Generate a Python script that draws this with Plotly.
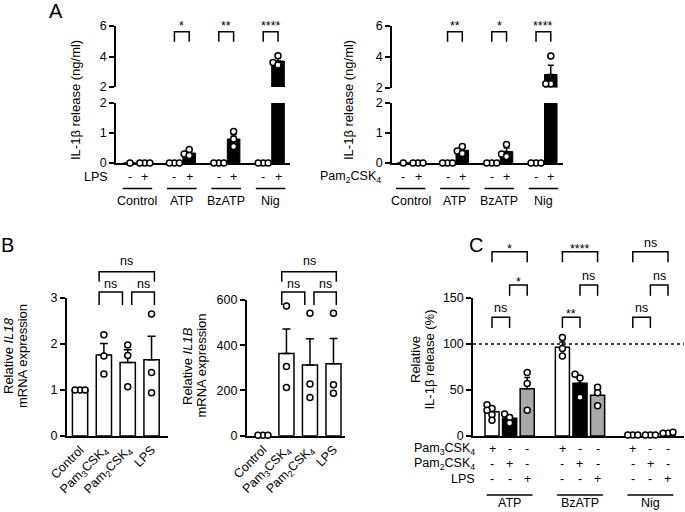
import numpy as np
import plotly.graph_objects as go

W, H = 685, 512
FONT = "Liberation Sans, Arial, sans-serif"
TICK_FS = 12.5
TITLE_FS = 13

# ---------------- data ----------------
A_groups = ["Control", "ATP", "BzATP", "Nig"]
A_signs = ["-", "+"]
A_left_minus = [[0.0], [0.0, 0.0, 0.0], [0.0, 0.0, 0.0], [0.0, 0.0, 0.0]]
A_left_plus = [[0.0, 0.0, 0.0], [0.45, 0.30, 0.25], [1.05, 0.80, 0.55], [4.05, 3.60, 3.45]]
A_left_sig = ["", "*", "**", "****"]
A_right_minus = [[0.0], [0.0, 0.0, 0.0], [0.0, 0.0, 0.0], [0.0, 0.0, 0.0]]
A_right_plus = [[0.0, 0.0, 0.0], [0.55, 0.40, 0.32], [0.62, 0.30, 0.22], [4.05, 2.25, 2.25]]
A_right_sig = ["", "**", "*", "****"]
A_left_row = "LPS"
A_right_row = "Pam<sub>2</sub>CSK<sub>4</sub>"
A_ytitle = "IL-1β release (ng/ml)"
A_yticks_low = [0, 1, 2]
A_yticks_high = [2, 4, 6]

B_cats = ["Control", "Pam<sub>3</sub>CSK<sub>4</sub>", "Pam<sub>2</sub>CSK<sub>4</sub>", "LPS"]
B_il18 = [[1.0, 1.0, 1.0], [2.20, 1.74, 1.35], [1.98, 1.75, 1.07], [2.65, 1.38, 0.94]]
B_il1b = [[2, 2, 2], [573, 306, 213], [541, 229, 169], [541, 225, 188]]
B_il18_ticks = [0, 1, 2, 3]
B_il1b_ticks = [0, 200, 400, 600]
B_sig = [(1, 2, "ns"), (2, 3, "ns"), (1, 3, "ns")]
B_il18_title = ["Relative <i>IL18</i>", "mRNA expression"]
B_il1b_title = ["Relative <i>IL1B</i>", "mRNA expression"]

C_groups = ["ATP", "BzATP", "Nig"]
C_stims = ["Pam<sub>3</sub>CSK<sub>4</sub>", "Pam<sub>2</sub>CSK<sub>4</sub>", "LPS"]
C_pam3 = [[34, 30, 28, 23, 17], [107, 95, 87], [1, 1, 1]]
C_pam2 = [[24, 20, 14], [67, 63, 42], [1, 1, 1]]
C_lps = [[69, 57, 28], [53, 47, 33], [3, 4, 3]]
C_sig_12 = ["ns", "**", "ns"]
C_sig_23 = ["*", "ns", "ns"]
C_sig_13 = ["*", "****", "ns"]
C_yticks = [0, 50, 100, 150]
C_ref = 100
C_title = ["Relative", "IL-1β release (%)"]

# ---------------- helpers ----------------
def paper_x(px):
    return px / W


def paper_y(py):
    return 1 - py / H


class Ax:
    def __init__(self, n, xpx, xr, ypx, yr):
        self.n = n
        self.xpx, self.xr, self.ypx, self.yr = xpx, xr, ypx, yr
        self.ppx = (xpx[1] - xpx[0]) / (xr[1] - xr[0])
        self.ppy = (ypx[0] - ypx[1]) / (yr[1] - yr[0])
        self.xa = "x" if n == 1 else f"x{n}"
        self.ya = "y" if n == 1 else f"y{n}"
        self.xkey = "xaxis" if n == 1 else f"xaxis{n}"
        self.ykey = "yaxis" if n == 1 else f"yaxis{n}"

    def X(self, v):
        return self.xpx[0] + (v - self.xr[0]) * self.ppx

    def Y(self, v):
        return self.ypx[0] - (v - self.yr[0]) * self.ppy

    def xdom(self):
        return [paper_x(self.xpx[0]), paper_x(self.xpx[1])]

    def ydom(self):
        return [paper_y(self.ypx[0]), paper_y(self.ypx[1])]


def mean_sem(pts):
    a = np.asarray(pts, float)
    m = a.mean()
    s = a.std(ddof=1) / np.sqrt(len(a)) if len(a) > 1 else 0.0
    return m, s


def swarm(values, ypix, ppx, step=5.0):
    placed = []
    offs = [0.0] * len(values)
    for k in sorted(range(len(values)), key=lambda i: values[i]):
        yp = ypix(values[k])
        xo = 0.0
        for c in [0, -1, 1, -2, 2, -3, 3]:
            xo = c * step
            if all((xo - a) ** 2 + (yp - b) ** 2 >= (step - 0.01) ** 2 for a, b in placed):
                break
        placed.append((xo, yp))
        offs[k] = xo / ppx
    return offs


layout = {}
shapes = []
annos = []
fig = go.Figure()

AXLINE = dict(showline=True, linecolor="black", linewidth=1.5, showgrid=False,
              zeroline=False, layer="below traces", automargin=False)


def add_axes(ax, xextra, yextra):
    layout[ax.xkey] = dict(domain=ax.xdom(), range=list(ax.xr), anchor=ax.ya, **xextra)
    layout[ax.ykey] = dict(domain=ax.ydom(), range=list(ax.yr), anchor=ax.xa, **yextra)


def yaxis_style(ticks):
    return dict(AXLINE, tickvals=ticks, ticks="outside", ticklen=5, tickwidth=1.5,
                tickcolor="black", tickfont=dict(size=TICK_FS, color="black", family=FONT))


def text(x, y, t, size=TICK_FS, xanchor="center", yanchor="middle", angle=0):
    annos.append(dict(x=paper_x(x), y=paper_y(y), xref="paper", yref="paper", text=t,
                      showarrow=False, xanchor=xanchor, yanchor=yanchor, textangle=angle,
                      font=dict(size=size, color="black", family=FONT)))


def hline(x0, x1, y, width=1.5, dash=None):
    ln = dict(color="black", width=width)
    if dash:
        ln["dash"] = dash
    shapes.append(dict(type="line", xref="paper", yref="paper", x0=paper_x(x0), x1=paper_x(x1),
                       y0=paper_y(y), y1=paper_y(y), line=ln))


def bracket(x1, x2, ytop, leg, label, star_gap=3, ns_gap=9):
    p = (f"M{paper_x(x1)},{paper_y(ytop + leg)} L{paper_x(x1)},{paper_y(ytop)} "
         f"L{paper_x(x2)},{paper_y(ytop)} L{paper_x(x2)},{paper_y(ytop + leg)}")
    shapes.append(dict(type="path", path=p, xref="paper", yref="paper",
                       line=dict(color="black", width=1.5)))
    gap = star_gap if "*" in label else ns_gap
    text((x1 + x2) / 2, ytop - gap, label)


def points_trace(xs, ys, ax):
    fig.add_trace(go.Scatter(x=xs, y=ys, mode="markers", cliponaxis=False,
                             marker=dict(symbol="circle", size=6, color="white",
                                         line=dict(color="black", width=1.5)),
                             xaxis=ax.xa, yaxis=ax.ya, showlegend=False, hoverinfo="skip"))


# ---------------- panel A ----------------
def panel_A(low, up, minus, plus, sig, row_label, row_right_px, title_x):
    xs, means, sems, cols = [], [], [], []
    lx, ly, ux, uy = [], [], [], []

    def ypix(v):
        return low.Y(v) if v <= low.yr[1] else up.Y(v)

    for g in range(len(A_groups)):
        for j, pts in enumerate([minus[g], plus[g]]):
            x = 3 * g + j
            m, s = mean_sem(pts)
            xs.append(x); means.append(m); sems.append(s)
            cols.append("white" if j == 0 else "black")
            offs = swarm(pts, ypix, low.ppx)
            for v, o in zip(pts, offs):
                if v <= low.yr[1]:
                    lx.append(x + o); ly.append(v)
                else:
                    ux.append(x + o); uy.append(v)
            text(low.X(x), 176.7, A_signs[j])
        hline(low.X(3 * g + 0.5 - 1.0), low.X(3 * g + 0.5 + 1.0), 188.5)
        text(low.X(3 * g + 0.5), 201, A_groups[g])
        if sig[g]:
            bracket(low.X(3 * g), low.X(3 * g + 1), up.Y(5.63), 10, sig[g], star_gap=6)
    for ax in (low, up):
        fig.add_trace(go.Bar(x=xs, y=means, width=0.85,
                             marker=dict(color=cols, line=dict(color="black", width=1)),
                             error_y=dict(type="data", array=sems, arrayminus=[0] * len(sems),
                                          symmetric=False, color="black", thickness=1.5, width=3),
                             xaxis=ax.xa, yaxis=ax.ya, showlegend=False, hoverinfo="skip"))
    points_trace(lx, ly, low)
    points_trace(ux, uy, up)
    text(row_right_px, 176.7, row_label, xanchor="right")
    text(title_x, 100, A_ytitle, size=TITLE_FS, angle=-90)

    add_axes(low, dict(AXLINE, showticklabels=False, ticks=""), yaxis_style(A_yticks_low))
    add_axes(up, dict(visible=False, automargin=False), yaxis_style(A_yticks_high))


A1L = Ax(1, (116, 290), (-0.946, 10.81), (163, 103), (0, 2))
A1U = Ax(2, (116, 290), (-0.946, 10.81), (87, 26), (2, 6))
A2L = Ax(3, (392, 563), (-0.767, 10.83), (163, 103), (0, 2))
A2U = Ax(4, (392, 563), (-0.767, 10.83), (87.5, 26), (2, 6))
panel_A(A1L, A1U, A_left_minus, A_left_plus, A_left_sig, A_left_row, 110, 75)
panel_A(A2L, A2U, A_right_minus, A_right_plus, A_right_sig, A_right_row, 383, 348)


# ---------------- panel B ----------------
def panel_B(ax, data, ticks, title, title_xs, title_y, low_top, high_top):
    xs = list(range(len(B_cats)))
    ms, ss, px_, py_ = [], [], [], []
    for i, pts in enumerate(data):
        m, s = mean_sem(pts)
        ms.append(m); ss.append(s)
        offs = swarm(pts, ax.Y, ax.ppx)
        for v, o in zip(pts, offs):
            px_.append(i + o); py_.append(v)
    fig.add_trace(go.Bar(x=xs, y=ms, width=0.64,
                         marker=dict(color="white", line=dict(color="black", width=1.5)),
                         error_y=dict(type="data", array=ss, arrayminus=[0] * len(ss),
                                      symmetric=False, color="black", thickness=1.5, width=4),
                         xaxis=ax.xa, yaxis=ax.ya, showlegend=False, hoverinfo="skip"))
    points_trace(px_, py_, ax)
    for (i, j, lab) in B_sig:
        if j - i == 1 and i == 1:
            bracket(ax.X(i - 0.2), ax.X(j - 0.22), ax.Y(low_top), 13, lab, ns_gap=8)
        elif j - i == 1:
            bracket(ax.X(i + 0.17), ax.X(j + 0.12), ax.Y(low_top), 13, lab, ns_gap=8)
        else:
            bracket(ax.X(i - 0.2), ax.X(j + 0.12), ax.Y(high_top), 10, lab, ns_gap=11)
    for t, x in zip(title, title_xs):
        text(x, title_y, t, size=TITLE_FS, angle=-90)
    add_axes(ax, dict(AXLINE, tickvals=xs, ticktext=B_cats, ticks="", tickangle=-45,
                      tickfont=dict(size=TICK_FS, color="black", family=FONT)),
             yaxis_style(ticks))


B1 = Ax(5, (66.7, 168), (-0.56, 3.69), (436, 298), (0, 3))
B2 = Ax(6, (246.7, 345), (-0.69, 3.49), (435.7, 300), (0, 600))
panel_B(B1, B_il18, B_il18_ticks, B_il18_title, (8, 22), 356, 3.13, 3.57)
panel_B(B2, B_il1b, B_il1b_ticks, B_il1b_title, (187, 200.5), 366, 635, 725)

# ---------------- panel C ----------------
C = Ax(7, (473, 684), (-1.08, 10.91), (436, 298), (0, 150))
c_colors = ["white", "black", "#a9a9a9"]
for j, series in enumerate([C_pam3, C_pam2, C_lps]):
    xs, ms, ss, px_, py_ = [], [], [], [], []
    for g, pts in enumerate(series):
        x = 4 * g + j
        m, s = mean_sem(pts)
        xs.append(x); ms.append(m); ss.append(s)
        offs = swarm(pts, C.Y, C.ppx)
        for v, o in zip(pts, offs):
            px_.append(x + o); py_.append(v)
    fig.add_trace(go.Bar(x=xs, y=ms, width=0.8,
                         marker=dict(color=c_colors[j], line=dict(color="black", width=1.5)),
                         error_y=dict(type="data", array=ss, arrayminus=[0] * len(ss),
                                      symmetric=False, color="black", thickness=1.5, width=3),
                         xaxis=C.xa, yaxis=C.ya, showlegend=False, hoverinfo="skip"))
    points_trace(px_, py_, C)

hline(C.xpx[0], C.xpx[1], C.Y(C_ref), width=1.5, dash="dot")
row_y = [449, 464, 479]
for r, stim in enumerate(C_stims):
    text(477, row_y[r], stim, xanchor="right")
    for g in range(len(C_groups)):
        for j in range(3):
            text(C.X(4 * g + j), row_y[r], "+" if j == r else "-")
for g, name in enumerate(C_groups):
    hline(C.X(4 * g + 1 - 1.3), C.X(4 * g + 1 + 1.3), 495)
    text(C.X(4 * g + 1), 512, name, yanchor="bottom")
    bracket(C.X(4 * g), C.X(4 * g + 1), C.Y(129), 10.6, C_sig_12[g])
    bracket(C.X(4 * g + 1), C.X(4 * g + 2), C.Y(164), 10.6, C_sig_23[g])
    bracket(C.X(4 * g), C.X(4 * g + 2), C.Y(200.3), 10.6, C_sig_13[g])
for t, x in zip(C_title, (415, 428.5)):
    text(x, 360, t, size=TITLE_FS, angle=-90)
add_axes(C, dict(AXLINE, showticklabels=False, ticks=""), yaxis_style(C_yticks))

# ---------------- panel letters ----------------
text(56, 11, "A", size=20)
text(8, 245, "B", size=20)
text(476, 245, "C", size=20)

fig.update_layout(width=W, height=H,
                  margin=dict(l=0, r=0, t=0, b=0, pad=0, autoexpand=False),
                  plot_bgcolor="white", paper_bgcolor="white", showlegend=False,
                  barmode="overlay", font=dict(family=FONT, color="black", size=TICK_FS),
                  shapes=shapes, annotations=annos, **layout)
fig.write_html("out.html", config={"displayModeBar": False},
               post_script="document.body.style.margin='0px';"
                           "document.documentElement.style.overflow='hidden';")
